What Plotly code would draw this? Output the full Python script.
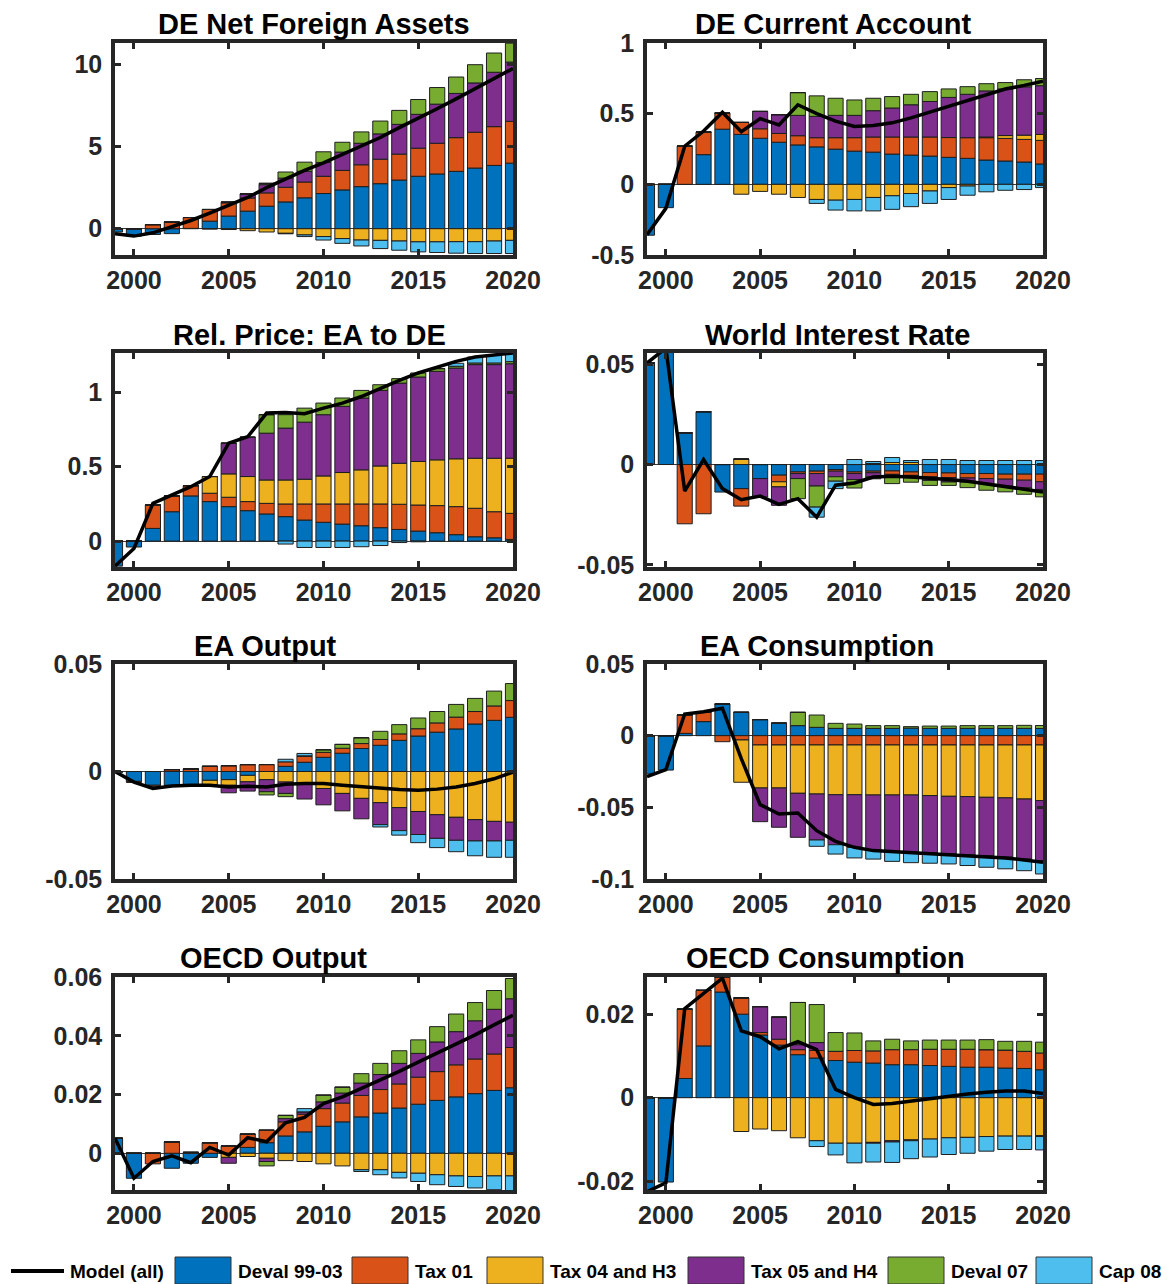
import plotly.graph_objects as go

W, H = 1169, 1284

YEARS = list(range(1999, 2021))
SERIES = ["Deval 99-03", "Tax 01", "Tax 04 and H3", "Tax 05 and H4", "Deval 07", "Cap 08"]
COLORS = ["#0072BD", "#D95319", "#EDB120", "#7E2F8E", "#77AC30", "#4DBEEE"]

# ---- DE Net Foreign Assets ----
NFA_DEVAL9903 = [-0.2, -0.45, -0.35, -0.3, 0.02, 0.46, 0.77, 1.07, 1.37, 1.63, 1.88, 2.14, 2.36, 2.56, 2.74, 2.96, 3.19, 3.33, 3.49, 3.69, 3.85, 3.99]
NFA_TAX01 = [0, 0, 0.25, 0.4, 0.66, 0.71, 0.8, 0.8, 0.81, 0.89, 0.96, 1.05, 1.19, 1.33, 1.49, 1.58, 1.71, 1.87, 2.05, 2.18, 2.36, 2.54]
NFA_TAX04 = [0, 0, 0, 0, 0, -0.02, -0.05, -0.12, -0.2, -0.28, -0.38, -0.48, -0.6, -0.69, -0.71, -0.75, -0.8, -0.8, -0.79, -0.79, -0.75, -0.71]
NFA_TAX05 = [0, 0, 0, 0, 0, 0, 0.05, 0.25, 0.5, 0.56, 0.65, 0.84, 1.11, 1.31, 1.54, 1.81, 2.06, 2.38, 2.69, 3.0, 3.31, 3.61]
NFA_DEVAL07 = [0, 0, 0, 0, 0, 0, 0, 0, 0.08, 0.37, 0.56, 0.65, 0.6, 0.69, 0.78, 0.85, 0.9, 1.01, 1.0, 1.11, 1.17, 1.15]
NFA_CAP08 = [0, 0, 0, 0, 0, 0, 0, 0, 0, -0.03, -0.1, -0.21, -0.29, -0.36, -0.5, -0.56, -0.61, -0.65, -0.7, -0.72, -0.76, -0.8]
NFA_MODEL = [-0.3, -0.45, -0.25, 0.1, 0.5, 0.95, 1.4, 1.9, 2.5, 3.05, 3.55, 4.0, 4.5, 5.0, 5.55, 6.15, 6.7, 7.3, 7.9, 8.5, 9.1, 9.75]

# ---- DE Current Account ----
CA_DEVAL9903 = [-0.36, -0.165, 0.0, 0.21, 0.39, 0.353, 0.326, 0.298, 0.279, 0.265, 0.249, 0.235, 0.228, 0.214, 0.207, 0.2, 0.191, 0.184, 0.172, 0.165, 0.158, 0.144]
CA_TAX01 = [0, 0, 0.27, 0.16, 0.115, 0.085, 0.067, 0.062, 0.065, 0.065, 0.081, 0.095, 0.107, 0.121, 0.128, 0.135, 0.14, 0.146, 0.158, 0.16, 0.16, 0.167]
CA_TAX04 = [0, 0, 0, 0, 0, -0.07, -0.05, -0.07, -0.093, -0.107, -0.112, -0.107, -0.093, -0.081, -0.065, -0.047, -0.023, -0.012, 0.005, 0.02, 0.03, 0.042]
CA_TAX05 = [0, 0, 0, 0, 0, 0, 0.123, 0.133, 0.144, 0.151, 0.158, 0.158, 0.186, 0.205, 0.228, 0.251, 0.284, 0.307, 0.326, 0.33, 0.342, 0.345]
CA_DEVAL07 = [0, 0, 0, 0, 0, 0, 0, 0, 0.161, 0.145, 0.121, 0.109, 0.088, 0.081, 0.074, 0.07, 0.06, 0.054, 0.051, 0.045, 0.05, 0.051]
CA_CAP08 = [0, 0, 0, 0, 0, 0, 0, 0, 0, -0.028, -0.07, -0.081, -0.095, -0.096, -0.093, -0.088, -0.084, -0.065, -0.053, -0.042, -0.037, -0.023]
CA_MODEL = [-0.356, -0.17, 0.27, 0.377, 0.51, 0.372, 0.465, 0.42, 0.563, 0.5, 0.447, 0.41, 0.416, 0.435, 0.47, 0.51, 0.55, 0.593, 0.633, 0.674, 0.70, 0.73]

# ---- Rel. Price: EA to DE ----
RP_DEVAL9903 = [-0.168, -0.04, 0.085, 0.197, 0.303, 0.265, 0.231, 0.204, 0.182, 0.164, 0.141, 0.126, 0.114, 0.103, 0.09, 0.078, 0.067, 0.056, 0.043, 0.029, 0.022, 0.011]
RP_TAX01 = [0, 0, 0.157, 0.106, 0.069, 0.056, 0.063, 0.061, 0.071, 0.085, 0.108, 0.123, 0.135, 0.146, 0.159, 0.169, 0.175, 0.182, 0.188, 0.191, 0.175, 0.175]
RP_TAX04 = [0, 0, 0, 0, 0, 0.112, 0.157, 0.168, 0.157, 0.161, 0.166, 0.188, 0.211, 0.229, 0.255, 0.275, 0.292, 0.307, 0.321, 0.336, 0.359, 0.37]
RP_TAX05 = [0, 0, 0, 0, 0, 0, 0.206, 0.264, 0.314, 0.348, 0.383, 0.411, 0.444, 0.482, 0.507, 0.538, 0.567, 0.594, 0.609, 0.628, 0.628, 0.634]
RP_DEVAL07 = [0, 0, 0, 0, 0, 0, 0, 0, 0.124, 0.09, 0.094, 0.078, 0.056, 0.051, 0.038, 0.03, 0.027, 0.018, 0.012, 0.011, 0.011, 0.014]
RP_CAP08 = [0, 0, 0, 0, 0, 0, 0, 0, 0, -0.02, -0.043, -0.043, -0.043, -0.038, -0.03, -0.01, -0.005, 0.0, 0.02, 0.04, 0.056, 0.058]
RP_MODEL = [-0.168, -0.05, 0.253, 0.31, 0.365, 0.433, 0.657, 0.70, 0.859, 0.863, 0.854, 0.892, 0.926, 0.97, 1.027, 1.078, 1.128, 1.168, 1.206, 1.235, 1.251, 1.262]

# ---- World Interest Rate ----
WR_DEVAL9903 = [0.0505, 0.058, 0.0158, 0.0263, -0.0137, -0.012, -0.007, -0.0053, -0.0037, -0.0033, -0.0025, -0.0037, -0.0033, -0.0032, -0.0037, -0.004, -0.0042, -0.0045, -0.0045, -0.0048, -0.0048, -0.0048]
WR_TAX01 = [0, 0, -0.0295, -0.0245, 0, -0.0087, 0, -0.0033, -0.0008, -0.0012, -0.0008, -0.0008, -0.0008, -0.0017, -0.0017, -0.0022, -0.0023, -0.0022, -0.0025, -0.0025, -0.003, -0.0038]
WR_TAX04 = [0, 0, 0, 0, 0, 0.0027, 0, -0.0025, 0, 0, 0, 0, 0.0005, 0.001, 0.001, 0, 0, 0, 0, 0, 0, 0]
WR_TAX05 = [0, 0, 0, 0, 0, 0, -0.0092, -0.0092, -0.0025, -0.0062, -0.0028, -0.003, -0.002, -0.0013, -0.0012, -0.0017, -0.0022, -0.002, -0.0025, -0.0035, -0.0038, -0.0038]
WR_DEVAL07 = [0, 0, 0, 0, 0, 0, 0, 0, -0.01, -0.0105, -0.0022, -0.0042, -0.001, -0.0033, -0.0022, -0.0025, -0.0017, -0.0028, -0.0033, -0.0028, -0.0032, -0.0037]
WR_CAP08 = [0, 0, 0, 0, 0, 0, 0, 0, 0, -0.005, -0.0037, 0.0025, 0.001, 0.0025, 0.001, 0.0025, 0.0025, 0.002, 0.002, 0.002, 0.002, 0.002]
WR_MODEL = [0.0505, 0.058, -0.0132, 0.0025, -0.012, -0.0175, -0.0157, -0.0198, -0.017, -0.0262, -0.0103, -0.0092, -0.0062, -0.0058, -0.0062, -0.0067, -0.0075, -0.0083, -0.0095, -0.0108, -0.0123, -0.0137]

# ---- EA Output ----
EY_DEVAL9903 = [-0.0005, -0.0046, -0.0064, -0.0064, -0.0064, -0.0041, -0.0038, -0.0018, 0, 0.0024, 0.0043, 0.0066, 0.0085, 0.0107, 0.0122, 0.0145, 0.0165, 0.0183, 0.0198, 0.0221, 0.0238, 0.0252]
EY_TAX01 = [0, -0.0005, -0.0005, 0.0009, 0.0012, 0.0024, 0.0027, 0.0032, 0.0032, 0.0021, 0.0027, 0.0023, 0.0023, 0.0023, 0.0027, 0.003, 0.0034, 0.0043, 0.0055, 0.0058, 0.0067, 0.0078]
EY_TAX04 = [0, 0, 0, 0, 0, -0.002, -0.0026, -0.003, -0.0038, -0.0049, -0.0056, -0.0079, -0.0102, -0.0125, -0.0145, -0.0168, -0.0186, -0.0201, -0.0213, -0.0224, -0.0232, -0.0236]
EY_TAX05 = [0, 0, 0, 0, 0, 0, -0.0035, -0.0043, -0.0056, -0.0053, -0.0072, -0.0076, -0.0081, -0.0095, -0.0102, -0.0107, -0.0107, -0.011, -0.0107, -0.0099, -0.0091, -0.0084]
EY_DEVAL07 = [0, 0, 0, 0, 0, 0, 0, 0, -0.0015, -0.0015, 0.0003, 0.0012, 0.0018, 0.0027, 0.0038, 0.0043, 0.005, 0.0053, 0.0059, 0.0061, 0.0069, 0.0079]
EY_CAP08 = [0, 0, 0, 0, 0, 0, 0, 0, 0, 0.0012, 0.0011, 0, 0, 0, -0.0011, -0.0021, -0.0038, -0.0043, -0.0053, -0.0069, -0.0076, -0.0079]
EY_MODEL = [0, -0.0049, -0.0079, -0.0067, -0.0064, -0.0064, -0.0072, -0.0069, -0.0072, -0.0059, -0.0056, -0.0056, -0.0064, -0.0072, -0.0079, -0.0084, -0.0087, -0.0082, -0.0072, -0.0056, -0.0034, -0.0003]

# ---- EA Consumption ----
EC_DEVAL9903 = [-0.0267, -0.024, 0.0016, 0.0098, 0.0221, 0.0163, 0.0112, 0.0088, 0.007, 0.0058, 0.0051, 0.0051, 0.0051, 0.0051, 0.0053, 0.0051, 0.0051, 0.0051, 0.0051, 0.0051, 0.0051, 0.005]
EC_TAX01 = [0, 0, 0.0128, 0.0065, -0.0042, -0.003, -0.0065, -0.0065, -0.0065, -0.0065, -0.0065, -0.0065, -0.0065, -0.0065, -0.0065, -0.0065, -0.0065, -0.0065, -0.0065, -0.0065, -0.0065, -0.0065]
EC_TAX04 = [0, 0, 0, 0, 0, -0.0295, -0.03, -0.03, -0.0337, -0.0342, -0.0347, -0.0347, -0.0349, -0.0349, -0.0349, -0.0353, -0.0358, -0.036, -0.0365, -0.0369, -0.0377, -0.0388]
EC_TAX05 = [0, 0, 0, 0, 0, 0, -0.0235, -0.0274, -0.0307, -0.0321, -0.0349, -0.0367, -0.0384, -0.0393, -0.04, -0.04, -0.0402, -0.0407, -0.0407, -0.0414, -0.0419, -0.0419]
EC_DEVAL07 = [0, 0, 0, 0, 0, 0, 0, 0, 0.0093, 0.0086, 0.0035, 0.003, 0.0019, 0.0019, 0.001, 0.0016, 0.0016, 0.0019, 0.0019, 0.0019, 0.0021, 0.0021]
EC_CAP08 = [0, 0, 0, 0, 0, 0, 0, 0, 0, -0.0044, -0.0065, -0.0074, -0.0063, -0.007, -0.0072, -0.0072, -0.007, -0.0074, -0.0081, -0.0081, -0.0081, -0.0093]
EC_MODEL = [-0.0286, -0.0237, 0.0151, 0.0167, 0.0191, -0.016, -0.0481, -0.0547, -0.054, -0.0663, -0.0737, -0.0779, -0.0802, -0.0809, -0.0814, -0.0821, -0.083, -0.0837, -0.0844, -0.0853, -0.0867, -0.0884]

# ---- OECD Output ----
OY_DEVAL9903 = [0.0051, -0.0085, 0, -0.0051, -0.0034, -0.0014, 0, 0.002, 0.0036, 0.0059, 0.0073, 0.0092, 0.0107, 0.0124, 0.0137, 0.0154, 0.0167, 0.018, 0.0192, 0.0203, 0.0214, 0.0223]
OY_TAX01 = [0, 0, -0.0036, 0.0039, 0.0003, 0.0036, 0.0025, 0.0045, 0.0043, 0.0048, 0.006, 0.006, 0.0064, 0.0073, 0.008, 0.0082, 0.0092, 0.0098, 0.0109, 0.0118, 0.0124, 0.0137]
OY_TAX04 = [0, 0, 0, 0, 0, 0, -0.0014, -0.0011, -0.0017, -0.0025, -0.0028, -0.0036, -0.0043, -0.0056, -0.0056, -0.0065, -0.0068, -0.0073, -0.0077, -0.0079, -0.0077, -0.0077]
OY_TAX05 = [0, 0, 0, 0, 0, 0, -0.002, 0, -0.0011, 0.0011, 0.0008, 0.0023, 0.0034, 0.0042, 0.0051, 0.007, 0.0081, 0.0101, 0.0113, 0.013, 0.0152, 0.0166]
OY_DEVAL07 = [0, 0, 0, 0, 0, 0, 0, 0, -0.0015, 0.0011, 0, 0.0023, 0.002, 0.0032, 0.0038, 0.0043, 0.0046, 0.0052, 0.006, 0.0062, 0.0064, 0.0069]
OY_CAP08 = [0, 0, 0, 0, 0, 0, 0, 0, 0, 0, 0.0011, 0, 0, -0.0006, -0.0017, -0.0019, -0.0028, -0.0034, -0.0036, -0.0039, -0.0047, -0.005]
OY_MODEL = [0.0051, -0.0085, -0.0028, -0.0009, -0.0032, 0.002, -0.0006, 0.0053, 0.0039, 0.0104, 0.0122, 0.0169, 0.0192, 0.022, 0.025, 0.0279, 0.031, 0.034, 0.0372, 0.0403, 0.0437, 0.047]

# ---- OECD Consumption ----
OC_DEVAL9903 = [-0.0225, -0.0202, 0.0046, 0.0124, 0.0253, 0.02, 0.015, 0.0126, 0.0103, 0.0095, 0.0089, 0.0085, 0.0083, 0.0079, 0.0079, 0.0077, 0.0075, 0.0073, 0.0073, 0.0071, 0.007, 0.0067]
OC_TAX01 = [0, 0, 0.0166, 0.0133, 0.0036, 0.0039, 0.0006, 0.0014, 0.0012, 0.0018, 0.0022, 0.0028, 0.0029, 0.0036, 0.0036, 0.0039, 0.0041, 0.0043, 0.0042, 0.0043, 0.0041, 0.004]
OC_TAX04 = [0, 0, 0, 0, 0, -0.0081, -0.0075, -0.0079, -0.0096, -0.0103, -0.0109, -0.0109, -0.0107, -0.0103, -0.0101, -0.0099, -0.0096, -0.0095, -0.0093, -0.0092, -0.0092, -0.0091]
OC_TAX05 = [0, 0, 0, 0, 0, 0, 0.0062, 0.0053, 0.0012, 0.0019, 0, 0, -0.0002, -0.0003, -0.0002, 0, 0, 0, 0, 0, 0, -0.0002]
OC_DEVAL07 = [0, 0, 0, 0, 0, 0, 0, 0, 0.0101, 0.0091, 0.0045, 0.0042, 0.0024, 0.0025, 0.0021, 0.0022, 0.0022, 0.0022, 0.0024, 0.0021, 0.0024, 0.0026]
OC_CAP08 = [0, 0, 0, 0, 0, 0, 0, 0, 0, -0.0014, -0.0028, -0.0047, -0.0045, -0.0049, -0.0043, -0.0043, -0.004, -0.0038, -0.0035, -0.0032, -0.0032, -0.0032]
OC_MODEL = [-0.0225, -0.0204, 0.0213, 0.0249, 0.0286, 0.016, 0.0146, 0.0117, 0.0134, 0.0115, 0.002, 0.0, -0.0016, -0.0014, -0.0008, -0.0002, 0.0004, 0.0009, 0.0013, 0.0016, 0.0016, 0.001]

# panel: title, contributions, model line, y range, y ticks, tick text
PANELS = [
    ("DE Net Foreign Assets", [NFA_DEVAL9903, NFA_TAX01, NFA_TAX04, NFA_TAX05, NFA_DEVAL07, NFA_CAP08], NFA_MODEL,
     [-1.6, 11.3], [0, 5, 10], ["0", "5", "10"]),
    ("DE Current Account", [CA_DEVAL9903, CA_TAX01, CA_TAX04, CA_TAX05, CA_DEVAL07, CA_CAP08], CA_MODEL,
     [-0.5, 1.0], [-0.5, 0, 0.5, 1], ["-0.5", "0", "0.5", "1"]),
    ("Rel. Price: EA to DE", [RP_DEVAL9903, RP_TAX01, RP_TAX04, RP_TAX05, RP_DEVAL07, RP_CAP08], RP_MODEL,
     [-0.174, 1.262], [0, 0.5, 1], ["0", "0.5", "1"]),
    ("World Interest Rate", [WR_DEVAL9903, WR_TAX01, WR_TAX04, WR_TAX05, WR_DEVAL07, WR_CAP08], WR_MODEL,
     [-0.051, 0.0555], [-0.05, 0, 0.05], ["-0.05", "0", "0.05"]),
    ("EA Output", [EY_DEVAL9903, EY_TAX01, EY_TAX04, EY_TAX05, EY_DEVAL07, EY_CAP08], EY_MODEL,
     [-0.05, 0.05], [-0.05, 0, 0.05], ["-0.05", "0", "0.05"]),
    ("EA Consumption", [EC_DEVAL9903, EC_TAX01, EC_TAX04, EC_TAX05, EC_DEVAL07, EC_CAP08], EC_MODEL,
     [-0.1, 0.05], [-0.1, -0.05, 0, 0.05], ["-0.1", "-0.05", "0", "0.05"]),
    ("OECD Output", [OY_DEVAL9903, OY_TAX01, OY_TAX04, OY_TAX05, OY_DEVAL07, OY_CAP08], OY_MODEL,
     [-0.0125, 0.06], [0, 0.02, 0.04, 0.06], ["0", "0.02", "0.04", "0.06"]),
    ("OECD Consumption", [OC_DEVAL9903, OC_TAX01, OC_TAX04, OC_TAX05, OC_DEVAL07, OC_CAP08], OC_MODEL,
     [-0.0221, 0.0289], [-0.02, 0, 0.02], ["-0.02", "0", "0.02"]),
]

# pixel geometry of the plot areas
COL_X = [(115, 513), (647, 1043)]
ROW_Y = [(43, 255), (353, 567), (664, 879), (977, 1190)]
TITLE_X = [314, 833, 310, 837, 265, 817, 273, 825]
TITLE_Y = [24, 335, 646, 958]

AX_COLOR = "#262626"
FONT = "Liberation Sans, Arial, sans-serif"

fig = go.Figure()
layout = dict(
    width=W, height=H, margin=dict(l=0, r=0, t=0, b=0, pad=0, autoexpand=False),
    paper_bgcolor="white", plot_bgcolor="white",
    barmode="relative", bargap=0.2, showlegend=False,
    font=dict(family=FONT, color=AX_COLOR),
)
annotations = []
shapes = []

for i, (title, contribs, model, yr, yt, ytt) in enumerate(PANELS):
    r, c = divmod(i, 2)
    n = i + 1
    xa = "x" if n == 1 else f"x{n}"
    ya = "y" if n == 1 else f"y{n}"
    x0, x1 = COL_X[c]
    top, bot = ROW_Y[r]
    axis_common = dict(
        showline=True, linecolor=AX_COLOR, linewidth=3.5, mirror="ticks",
        ticks="inside", ticklen=6, tickwidth=3, tickcolor=AX_COLOR,
        showgrid=False, layer="above traces", automargin=False,
        tickfont=dict(family=FONT, size=25, color=AX_COLOR, weight="bold"),
    )
    layout["xaxis" if n == 1 else f"xaxis{n}"] = dict(
        axis_common, domain=[x0 / W, x1 / W], anchor=ya,
        range=[1999, 2020], tickvals=[2000, 2005, 2010, 2015, 2020],
        zeroline=False,
    )
    layout["yaxis" if n == 1 else f"yaxis{n}"] = dict(
        axis_common, domain=[1 - bot / H, 1 - top / H], anchor=xa,
        range=yr, tickvals=yt, ticktext=ytt,
        zeroline=True, zerolinecolor="#3a3a3a", zerolinewidth=1,
        ticklabelstandoff=4,
    )
    for name, vals, col in zip(SERIES, contribs, COLORS):
        fig.add_trace(go.Bar(
            x=YEARS, y=vals, name=name, width=0.8,
            marker=dict(color=col, line=dict(color="#1e1e1e", width=1)),
            xaxis=xa, yaxis=ya, showlegend=False,
        ))
    fig.add_trace(go.Scatter(
        x=YEARS, y=model, mode="lines", name="Model (all)",
        line=dict(color="black", width=3.5),
        xaxis=xa, yaxis=ya, showlegend=False,
    ))
    annotations.append(dict(
        text=title, xref="paper", yref="paper",
        x=TITLE_X[i] / W, y=1 - TITLE_Y[r] / H,
        xanchor="center", yanchor="middle", showarrow=False,
        font=dict(family=FONT, size=29, color="black", weight="bold"),
    ))

# legend row along the bottom
LEG_Y = 1271
LEG_FONT = dict(family="Liberation Sans Narrow, Arial Narrow, Liberation Sans, sans-serif",
                size=19, color="black", weight="bold")
shapes.append(dict(type="line", xref="paper", yref="paper",
                   x0=11 / W, x1=64 / W, y0=1 - LEG_Y / H, y1=1 - LEG_Y / H,
                   line=dict(color="black", width=4)))
annotations.append(dict(text="Model (all)", xref="paper", yref="paper",
                        x=68 / W, y=1 - LEG_Y / H, xanchor="left", yanchor="middle",
                        showarrow=False, font=LEG_FONT))
BOX_X = [175, 352, 487, 688, 888, 1036]
for name, col, bx in zip(SERIES, COLORS, BOX_X):
    shapes.append(dict(type="rect", xref="paper", yref="paper",
                       x0=bx / W, x1=(bx + 56) / W, y0=1 - 1284 / H, y1=1 - 1257 / H,
                       fillcolor=col, line=dict(color="#333333", width=1)))
    annotations.append(dict(text=name, xref="paper", yref="paper",
                            x=(bx + 61) / W, y=1 - LEG_Y / H, xanchor="left", yanchor="middle",
                            showarrow=False, font=LEG_FONT))

layout["annotations"] = annotations
layout["shapes"] = shapes
fig.update_layout(**layout)
fig.write_html("out.html")
